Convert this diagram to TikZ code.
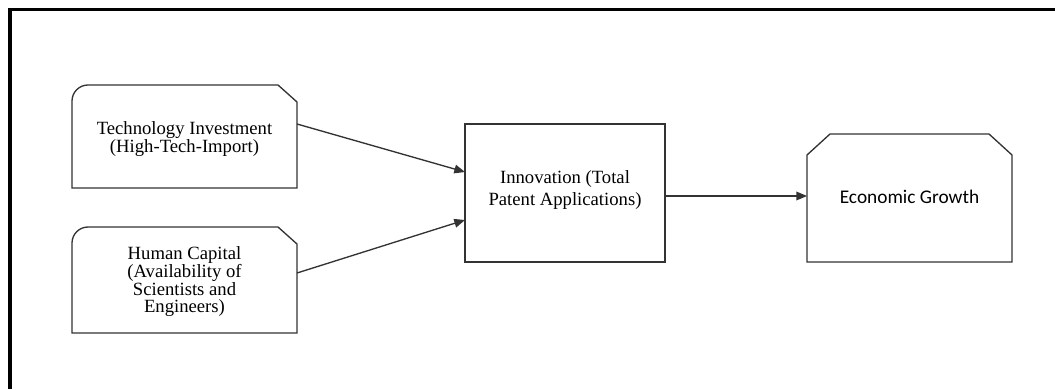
\documentclass[tikz,border=0pt]{standalone}
\usepackage{fontspec}
\setmainfont{Liberation Serif}
\newfontfamily\calibri{Carlito}
\usetikzlibrary{arrows.meta,calc}
\begin{document}
\begin{tikzpicture}[x=0.75pt,y=-0.75pt,
  box/.style={draw=none, inner sep=0pt, outer sep=0pt},
  outline/.style={draw=black!80, line width=1pt, line join=miter},
  lbl/.style={align=center, inner sep=0pt, font=\fontsize{14}{13.5}\selectfont},
  arr/.style={draw=black!80, line width=1pt, -{Triangle[length=8pt,width=6.5pt]}}
]
\useasboundingbox (0,0) rectangle (1055,389);
% frame (left and top only)
\coordinate (fbl) at (10,389);
\coordinate (ftl) at (10,9.7);
\coordinate (ftr) at (1055,9.7);
\draw[line width=2.5pt] (fbl) -- (ftl) -- (ftr);

% boxes
\node[box, minimum width=168.75pt, minimum height=77.25pt] (tech) at (184.5,136.5) {};
\node[box, minimum width=168.75pt, minimum height=79.5pt] (human) at (184.5,280) {};
\node[box, minimum width=150pt, minimum height=103.5pt] (innov) at (565,193) {};
\node[box, minimum width=153.75pt, minimum height=96pt] (econ) at (909.5,198) {};

% outlines
\draw[outline] (tech.south east) -- (tech.south west) -- ($(tech.north west)+(0,16)$)
  .. controls ($(tech.north west)+(0,7.2)$) and ($(tech.north west)+(7.2,0)$) .. ($(tech.north west)+(16,0)$)
  -- ($(tech.north east)+(-19,0)$) -- ($(tech.north east)+(0,17)$) -- cycle;
\draw[outline] (human.south east) -- (human.south west) -- ($(human.north west)+(0,16)$)
  .. controls ($(human.north west)+(0,7.2)$) and ($(human.north west)+(7.2,0)$) .. ($(human.north west)+(16,0)$)
  -- ($(human.north east)+(-19,0)$) -- ($(human.north east)+(0,17)$) -- cycle;
\draw[outline] (innov.south west) rectangle (innov.north east);
\draw[outline] (econ.south west) -- ($(econ.north west)+(0,21)$) -- ($(econ.north west)+(23,0)$)
  -- ($(econ.north east)+(-23,0)$) -- ($(econ.north east)+(0,21)$) -- (econ.south east) -- cycle;

% texts
\node[lbl] (techtxt) at ($(tech.center)+(0,3)$) {Technology Investment\\(High-Tech-Import)};
\node[lbl, font=\fontsize{14}{12.6}\selectfont] (humantxt) at ($(human.center)+(0,1.5)$) {Human Capital\\(Availability of\\Scientists and\\Engineers)};
\node[lbl, font=\fontsize{14}{16.3}\selectfont] (innovtxt) at ($(innov.center)+(0,-3)$) {Innovation (Total\\Patent Applications)};
\node[lbl, font=\calibri\fontsize{14.5}{17}\selectfont] (econtxt) at ($(econ.center)+(0,-1)$) {Economic Growth};

% connectors
\draw[arr] ($(tech.north east)+(0,39)$) -- ($(innov.north west)+(0,48)$);
\draw[arr] ($(human.north east)+(0,46)$) -- ($(innov.north west)+(0,96)$);
\draw[arr] ($(innov.east)+(0,3)$) -- ($(econ.west)+(0,-2)$);
\end{tikzpicture}
\end{document}
